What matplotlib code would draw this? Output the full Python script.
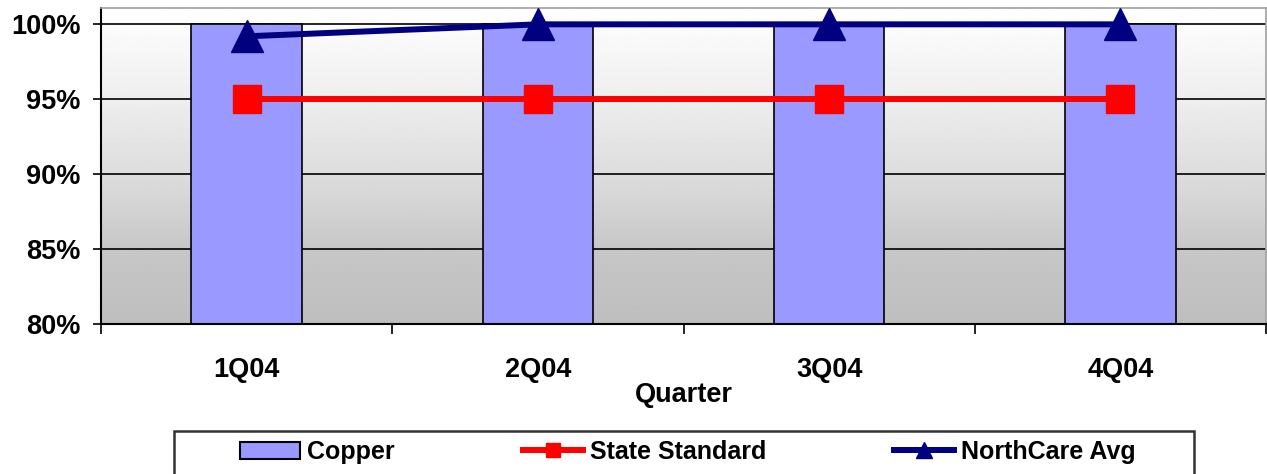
import numpy as np
import matplotlib
matplotlib.use("Agg")
import matplotlib.pyplot as plt
from matplotlib.lines import Line2D
from matplotlib.patches import Patch, Rectangle

quarters = ["1Q04", "2Q04", "3Q04", "4Q04"]
copper = [100, 100, 100, 100]
state_standard = [95, 95, 95, 95]
northcare_avg = [99.2, 100, 100, 100]
y_ticks = [80, 85, 90, 95, 100]

plt.rcParams["font.family"] = ["Liberation Sans", "DejaVu Sans"]
plt.rcParams["font.weight"] = "bold"

W, H = 1267, 474
fig = plt.figure(figsize=(W / 100, H / 100), dpi=100)
ax = fig.add_axes([101 / W, 1 - 324 / H, 1165 / W, 316 / H])

x = np.arange(len(quarters))
ax.set_xlim(-0.5, len(quarters) - 0.5)
ax.set_ylim(80, 101.09)

# vertical gray gradient behind the plot: white at top, gray at bottom
stops_t = [0.0, 0.285, 0.525, 0.765, 1.0]
stops_v = [255, 238, 221, 199, 190]
t = np.linspace(0, 1, 256)
g = np.interp(t, stops_t, stops_v) / 255.0
img = np.repeat(g[:, None], 2, axis=1)
ax.imshow(img, cmap="gray", vmin=0, vmax=1, extent=[0, 1, 0, 1], origin="upper",
          transform=ax.transAxes, aspect="auto", zorder=0, interpolation="bilinear")

for yv in y_ticks[1:]:
    ax.axhline(yv, color="black", lw=1.2, zorder=1)

ax.bar(x, copper, width=0.38, color="#9999FF", edgecolor="black", linewidth=1.2, zorder=2)
ax.plot(x, state_standard, color="#FF0000", lw=4.3, marker="s", ms=20,
        markeredgecolor="#FF0000", zorder=3)
ax.plot(x, northcare_avg, color="#000080", lw=4.3, marker="^", ms=23,
        markeredgecolor="#000080", zorder=4, clip_on=False)

ax.set_yticks(y_ticks)
ax.set_yticklabels([f"{v}%" for v in y_ticks], fontsize=19.5, fontweight="bold")
ax.tick_params(axis="y", direction="out", length=6, width=1.2, pad=8.5)

ax.set_xticks(np.arange(-0.5, len(quarters), 1.0))
ax.set_xticklabels([])
ax.set_xticks(x, minor=True)
ax.set_xticklabels(quarters, minor=True, fontsize=19.5, fontweight="bold")
ax.tick_params(axis="x", which="major", direction="out", length=7, width=1.2)
ax.tick_params(axis="x", which="minor", length=0, pad=24)

for side in ("left", "bottom"):
    ax.spines[side].set_color("black")
    ax.spines[side].set_linewidth(1.5)
for side in ("top", "right"):
    ax.spines[side].set_color("#a0a0a0")
    ax.spines[side].set_linewidth(1.2)

fig.text(684 / W, 1 - 401.5 / H, "Quarter", ha="center", va="baseline",
         fontsize=19.5, fontweight="bold")

# legend
handles = [
    Patch(facecolor="#9999FF", edgecolor="black", linewidth=1.5),
    Line2D([], [], color="#FF0000", lw=4.3, marker="s", ms=10, markeredgecolor="#FF0000"),
    Line2D([], [], color="#000080", lw=4.3, marker="^", ms=11, markeredgecolor="#000080"),
]
labels = ["Copper", "State Standard", "NorthCare Avg"]
fig.legend(handles, labels, ncol=3, loc="center", bbox_to_anchor=(688 / W, 1 - 452 / H),
           frameon=False, prop={"size": 18, "weight": "bold"}, handlelength=2.4,
           handletextpad=0.3, columnspacing=5.1)
fig.add_artist(Rectangle((174 / W, -0.05), 1020 / W, 0.05 + 1 - 431 / H,
                         transform=fig.transFigure, facecolor="none",
                         edgecolor="#333333", linewidth=1.8))

fig.savefig("out.png", dpi=100)
